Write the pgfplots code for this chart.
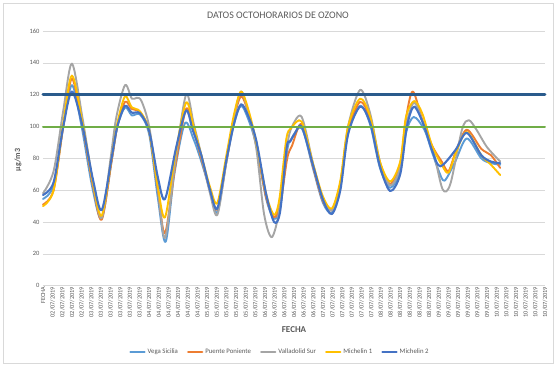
\documentclass[border=0pt]{standalone}
\usepackage{pgfplots}
\pgfplotsset{compat=1.18}
\usepackage{fontspec}
\setmainfont{Carlito}
\definecolor{cLB}{HTML}{5B9BD5}
\definecolor{cOR}{HTML}{ED7D31}
\definecolor{cGR}{HTML}{A5A5A5}
\definecolor{cYE}{HTML}{FFC000}
\definecolor{cDB}{HTML}{4472C4}
\definecolor{cNAVY}{HTML}{2A5B8C}
\definecolor{cGREEN}{HTML}{70AD47}
\definecolor{txt}{HTML}{595959}
\definecolor{gridc}{HTML}{D9D9D9}
\begin{document}
\begin{tikzpicture}
\useasboundingbox (-43pt,-83.3pt) rectangle (515pt,285.7pt);
\draw[gridc] (-40pt,-77.3pt) rectangle (510pt,282.7pt);
\begin{axis}[
  at={(0pt,0pt)}, anchor=south west,
  scale only axis, width=502pt, height=254.7pt,
  xmin=0, xmax=52, ymin=0, ymax=160,
  ytick={0,20,...,160},
  xtick={0,...,52},
  xticklabels={FECHA,02/07/2019,02/07/2019,02/07/2019,02/07/2019,
   03/07/2019,03/07/2019,03/07/2019,03/07/2019,03/07/2019,03/07/2019,
   04/07/2019,04/07/2019,04/07/2019,04/07/2019,04/07/2019,04/07/2019,
   05/07/2019,05/07/2019,05/07/2019,05/07/2019,05/07/2019,05/07/2019,
   06/07/2019,06/07/2019,06/07/2019,06/07/2019,06/07/2019,06/07/2019,
   07/07/2019,07/07/2019,07/07/2019,07/07/2019,07/07/2019,07/07/2019,
   08/07/2019,08/07/2019,08/07/2019,08/07/2019,08/07/2019,08/07/2019,
   09/07/2019,09/07/2019,09/07/2019,09/07/2019,09/07/2019,09/07/2019,
   10/07/2019,10/07/2019,10/07/2019,10/07/2019,10/07/2019,10/07/2019},
  xticklabel style={rotate=90, anchor=east, font=\fontsize{6.3}{7}\selectfont, text=txt, inner sep=1pt},
  yticklabel style={font=\fontsize{6.5}{7}\selectfont, text=txt},
  /pgf/number format/assume math mode=true,
  axis line style={draw=none},
  major tick length=0pt,
  ymajorgrids, grid style={gridc, line width=0.6pt},
  clip=false,
  legend columns=5,
  legend style={draw=none, fill=none, at={(0.472,-0.26)}, anchor=center,
    font=\fontsize{6.8}{8}\selectfont, text=txt,
    /tikz/every even column/.append style={column sep=7pt}},
  legend image code/.code={\draw[#1, line width=2.4pt] (0pt,0pt) -- (14pt,0pt);},
  every axis plot/.append style={smooth, line width=1.9pt, line cap=round, line join=round},
]
\addplot[cLB] coordinates {
(0,54.5) (1.1,63) (2.1,100) (3.0,126) (4.0,100) (5.1,62) (6.08,42) (7.1,78) (7.7,100) (8.5,112) (9.2,107) (10.05,107.5) (11.0,95) (11.9,55) (12.7,27.5) (13.6,70) (14.7,102) (15.6,92) (16.4,78) (17.3,60) (18.06,46) (19.0,78) (19.8,102) (20.52,113) (21.3,104) (22.1,88) (23.1,55) (23.94,42) (24.6,50) (25.3,85) (25.7,92) (26.8,99) (28.0,73) (29.0,52) (29.92,46) (30.8,62) (31.6,96) (32.85,113) (33.9,101) (34.9,74) (35.96,61.5) (37.0,72) (37.6,96) (38.4,106) (39.5,98) (40.3,84) (41.0,72) (41.6,66) (42.7,78) (43.9,92.5) (45.4,80) (46.4,77) (47.36,76)};
\addlegendentry{Vega Sicilia}
\addplot[cOR] coordinates {
(0,51) (1.1,60) (2.1,100) (3.0,130) (4.1,100) (5.2,62) (6.08,41.5) (7.1,78) (7.7,100) (8.5,115.5) (9.2,111) (10.05,109) (11.0,97) (11.9,60) (12.64,33) (13.7,75) (14.82,111) (15.6,98) (16.4,80) (17.3,60) (18.06,48) (19.0,78) (19.8,105) (20.52,119) (21.3,108) (22.1,88) (23.1,56) (23.94,43) (24.6,52) (25.3,80) (25.8,88) (26.8,101.5) (28.0,74) (29.0,53) (29.92,47.5) (30.8,64) (31.6,97) (32.85,115.5) (33.9,104) (34.9,76) (35.96,64) (37.0,76) (37.6,105) (38.3,122) (39.3,104) (40.3,88) (41.3,78) (42.0,72) (42.8,85) (43.9,98) (45.4,86) (46.4,82) (47.36,74)};
\addlegendentry{Puente Poniente}
\addplot[cGR] coordinates {
(0,58) (1.1,72) (2.1,110) (3.0,139.5) (4.1,105) (5.2,64) (6.08,42.5) (7.0,80) (7.6,106) (8.5,126) (9.2,117.5) (9.7,118) (10.2,116) (11.0,100) (11.9,62) (12.64,30) (13.7,78) (14.82,120) (15.6,102) (16.4,82) (17.3,58) (18.06,44.5) (19.0,78) (19.8,106) (20.52,122) (21.3,108) (22.1,86) (22.9,45) (23.7,30.5) (24.5,48) (25.3,88) (25.8,100) (26.8,106) (28.0,76) (29.0,54) (29.92,47.5) (30.8,64) (31.6,100) (32.85,123) (33.9,108) (34.9,78) (35.96,63) (37.0,74) (37.6,100) (38.45,115) (39.5,100) (40.45,84) (41.4,60.5) (42.2,64) (43.4,98) (44.1,104) (44.9,98) (46.0,87) (47.36,78)};
\addlegendentry{Valladolid Sur}
\addplot[cYE] coordinates {
(0,50) (1.1,60) (2.1,102) (3.0,132) (4.1,102) (5.2,64) (6.08,44) (7.1,80) (7.7,102) (8.5,119) (9.2,112) (10.05,109.5) (11.0,97) (11.9,62) (12.64,43) (13.7,82) (14.82,115) (15.6,100) (16.4,82) (17.3,62) (18.06,52) (19.0,82) (19.8,108) (20.52,122) (21.3,110) (22.1,90) (23.1,58) (23.94,44.5) (24.5,55) (25.2,92) (25.7,99) (26.8,103) (28.0,76) (29.0,56) (29.92,48.5) (30.8,66) (31.6,100) (32.85,117.5) (33.9,106) (34.9,78) (35.96,65.5) (37.0,78) (37.6,106) (38.45,116) (39.3,108) (40.3,88) (41.3,76) (42.0,71) (42.8,84) (43.9,96.5) (45.4,82) (46.4,76) (47.36,69.5)};
\addlegendentry{Michelin 1}
\addplot[cDB, line width=2.1pt] coordinates {
(0,57) (1.1,65) (2.1,100) (3.0,122) (4.1,100) (5.2,66) (6.08,47.5) (7.1,80) (7.7,100) (8.5,113) (9.2,108.7) (10.05,108.3) (11.0,97) (11.9,68) (12.64,54.5) (13.8,87) (14.82,110) (15.5,98) (16.4,82) (17.3,60) (18.06,48.5) (19.0,79) (19.8,102) (20.52,114) (21.3,106) (22.1,91) (23.1,58) (23.94,40) (24.56,46.5) (25.25,87) (25.6,90.5) (26.1,95.7) (26.8,100) (28.0,75) (29.0,54) (29.92,45) (30.8,60) (31.6,95) (32.85,112.5) (33.9,102) (34.9,75) (35.96,59.5) (37.0,70) (37.7,100) (38.45,112.5) (39.5,100) (40.3,85) (41.14,75) (42.7,85) (43.9,96) (45.4,82) (46.4,78) (47.36,77)};
\addlegendentry{Michelin 2}
\addplot[cNAVY, line width=3pt, sharp plot, forget plot] coordinates {(0,120) (52,120)};
\addplot[cGREEN, line width=2pt, sharp plot, forget plot] coordinates {(0,100) (52,100)};
\end{axis}
\node[text=txt, font=\fontsize{10}{12}\selectfont] at (235pt,270.7pt) {DATOS OCTOHORARIOS DE OZONO};
\node[text=txt, font=\bfseries\fontsize{9}{11}\selectfont] at (251pt,-44.3pt) {FECHA};
\node[text=txt, font=\bfseries\fontsize{8}{10}\selectfont, rotate=90] at (-25pt,125.7pt) {µg/m3};
\end{tikzpicture}
\end{document}
